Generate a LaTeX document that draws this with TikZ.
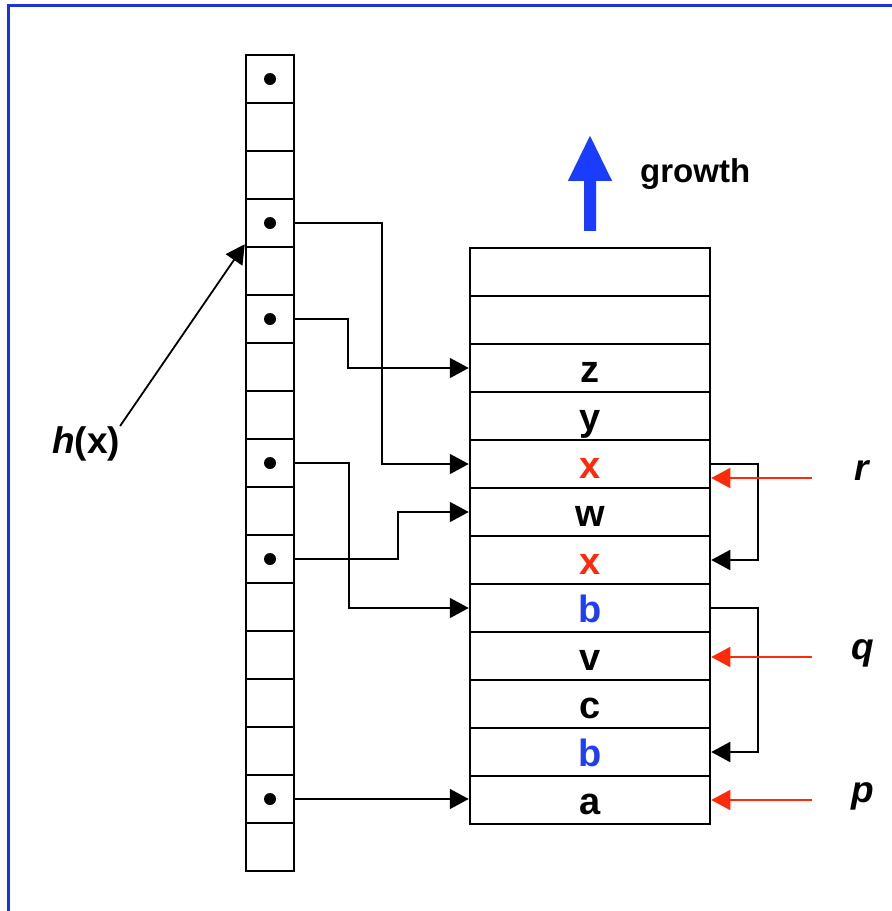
\documentclass[tikz,border=0pt]{standalone}
\usepackage{fontspec}
\setmainfont{Liberation Sans}
\usetikzlibrary{arrows.meta}
\definecolor{frameblue}{HTML}{1E33D6}
\definecolor{growblue}{HTML}{1A3CFF}
\definecolor{keyblue}{HTML}{1F3FF0}
\definecolor{keyred}{HTML}{FF2A0A}

\begin{document}
\begin{tikzpicture}[
  x=1pt,y=-1pt,
  >={Triangle[length=19pt,width=20pt]},
  slot/.style={draw,line width=2.5pt,minimum width=48pt,minimum height=48pt,inner sep=0pt},
  entry/.style={draw,line width=2.5pt,minimum width=240pt,minimum height=48pt,inner sep=0pt,
    text height=28pt,text depth=0pt,font=\fontsize{38}{40}\selectfont\bfseries},
  var/.style={inner sep=0pt,font=\fontsize{37}{40}\selectfont\bfseries},
  link/.style={->,line width=1.8pt},
  ptr/.style={->,line width=1.5pt,keyred}
]
\useasboundingbox (0,0) rectangle (892,911);
\draw[frameblue,line width=3pt] (8,911) -- (8,5) -- (892,5);

% hash table
\foreach \k in {0,...,16}{
  \node[slot] (h\k) at (270,{79+48*\k}) {};
}
\foreach \k in {0,3,5,8,10,15}{
  \fill (h\k) circle[radius=6pt];
}
\node[var,anchor=base] (hx) at (86,453) {{\itshape h}(x)};
\draw[link] (hx.north east) -- ([yshift=4pt]h3.south west);

% store
\foreach \k/\lab/\col in {0/{}/black,1/{}/black,2/z/black,3/y/black,4/x/keyred,5/w/black,
    6/x/keyred,7/b/keyblue,8/v/black,9/c/black,10/b/keyblue,11/a/black}{
  \node[entry,text=\col] (s\k) at (590,{272+48*\k}) {\lab};
}
\coordinate (gfoot) at ([yshift=16pt]s0.north);
\fill[growblue] (gfoot) ++(-6,0) -- ++(0,-50) -- ++(-16,0) -- ++(22,-45)
  -- ++(22,45) -- ++(-16,0) -- ++(0,50) -- cycle;
\node[inner sep=0pt,anchor=base west,font=\fontsize{33}{36}\selectfont\bfseries]
  (grow) at (640,182) {growth};

\draw[link] (h3.east) -- ++(87,0) |- (s4.west);
\draw[link] (h5.east) -- ++(53,0) |- (s2.west);
\draw[link] (h8.east) -- ++(54,0) |- (s7.west);
\draw[link] (h10.east) -- ++(103,0) |- (s5.west);
\draw[link] (h15.east) -- (h15.east -| s11.west);

\draw[link] (s4.east) -- ++(47,0) |- (s6.east);
\draw[link] (s7.east) -- ++(47,0) |- (s10.east);

% pointers
\node[var,anchor=mid] (r) at (862,478) {\itshape r};
\node[var,anchor=mid] (q) at (863,657) {\itshape q};
\node[var,anchor=mid] (p) at (863,800) {\itshape p};
\draw[ptr] ([xshift=-50pt]r.mid) -- (r.mid -| s4.east);
\draw[ptr] ([xshift=-51pt]q.mid) -- (q.mid -| s8.east);
\draw[ptr] ([xshift=-51pt]p.mid) -- (p.mid -| s11.east);
\end{tikzpicture}
\end{document}
